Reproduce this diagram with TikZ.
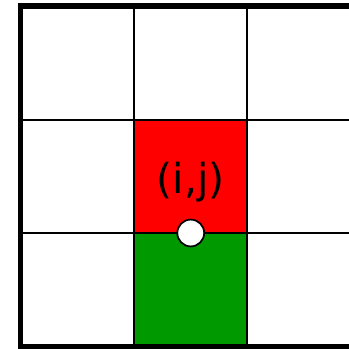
\documentclass[tikz,border=0pt]{standalone}
\usepackage{fontspec}
\setsansfont{DejaVu Sans}
\definecolor{cellred}{RGB}{255,0,0}
\definecolor{cellgreen}{RGB}{0,153,0}
\begin{document}
\begin{tikzpicture}[x=3cm,y=3cm,
  gridline/.style={line width=1.5pt},
  frame/.style={line width=4.5pt}]
  \useasboundingbox (-0.1806,-0.022) rectangle (2.894,3.053);
  % cells
  \fill[cellred] (1,1) rectangle (2,2);
  \fill[cellgreen] (1,0) rectangle (2,1);
  % grid
  \foreach \k in {1,2} {
    \draw[gridline] (\k,0) -- (\k,3);
    \draw[gridline] (0,\k) -- (3,\k);
  }
  \draw[frame] (0,0) rectangle (3,3);
  \node[font=\sffamily\fontsize{31}{37}\selectfont] (label) at (1.5,1.445) {(i,j)};
  \node[circle,draw,fill=white,line width=1.3pt,inner sep=0pt,minimum size=0.71cm] (site) at (1.5,1) {};
\end{tikzpicture}
\end{document}
